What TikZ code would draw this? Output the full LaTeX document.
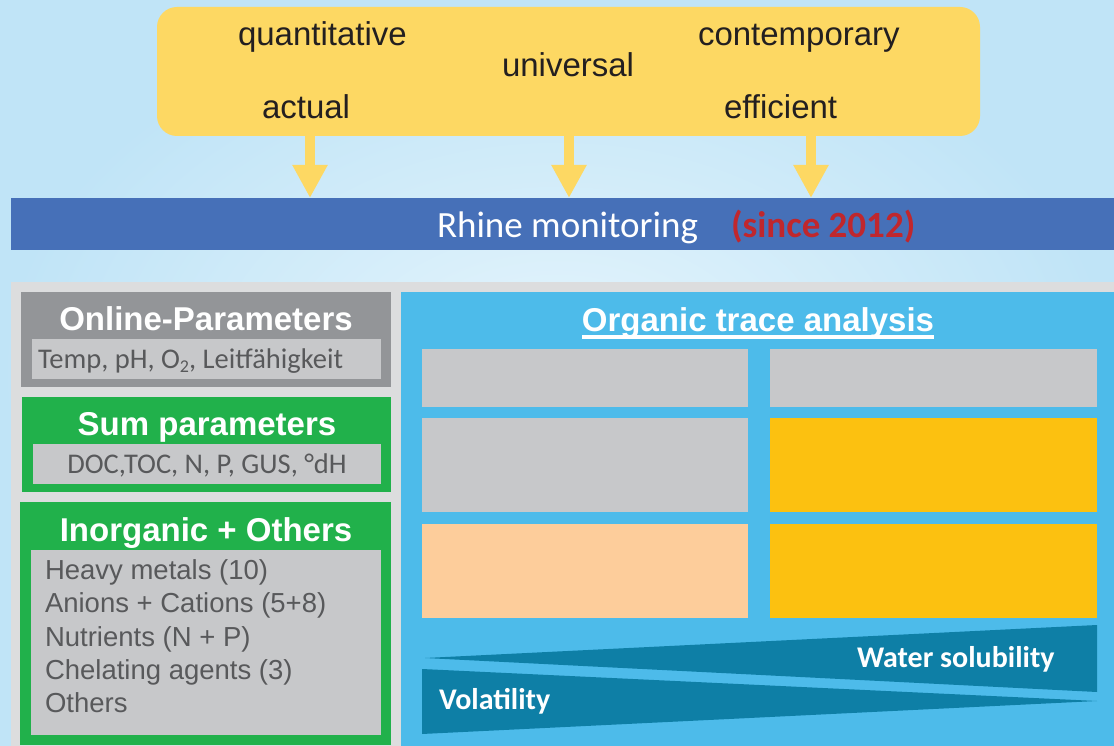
\documentclass[tikz,border=0pt]{standalone}
\usepackage{fontspec}
\setmainfont{Liberation Sans}
\newfontfamily\calfont{Carlito}
\usetikzlibrary{arrows.meta}
\definecolor{bgin}{HTML}{E6F5FC}
\definecolor{bgout}{HTML}{C0E4F7}
\definecolor{ybox}{HTML}{FDD863}
\definecolor{ytext}{HTML}{231F20}
\definecolor{barblue}{HTML}{4670B8}
\definecolor{sincered}{HTML}{C0272D}
\definecolor{panelgray}{HTML}{DCDDDE}
\definecolor{darkgray}{HTML}{939598}
\definecolor{lightgray}{HTML}{C7C8CA}
\definecolor{mygreen}{HTML}{21B14B}
\definecolor{orgblue}{HTML}{4DBBEA}
\definecolor{gold}{HTML}{FCC110}
\definecolor{peach}{HTML}{FDCD9B}
\definecolor{tealdk}{HTML}{0E7FA6}
\definecolor{txtgray}{HTML}{58595B}
\tikzset{
  blk/.style={anchor=north west, inner sep=0pt, outer sep=0pt, draw=none},
  txt/.style={inner sep=0pt, outer sep=0pt},
  topword/.style={txt, anchor=base west, text=ytext, font=\fontsize{33}{40}\selectfont},
  headw/.style={txt, anchor=base, text=white, font=\fontsize{33}{40}\selectfont\bfseries},
  calgray/.style={txt, text=txtgray, font=\calfont\fontsize{28.5}{33}\selectfont},
  item/.style={txt, anchor=base west, text=txtgray, font=\fontsize{27.5}{33}\selectfont},
  wedgetxt/.style={txt, anchor=base west, text=white, font=\calfont\bfseries\fontsize{30}{35}\selectfont},
  yarr/.style={draw=ybox, line width=10.5pt, -{Triangle[width=33pt,length=33pt]}}
}
\begin{document}
\begin{tikzpicture}[x=1pt,y=-1pt]
\useasboundingbox (0,0) rectangle (1114,746);
\shade[inner color=bgin, outer color=bgout] (0,0) rectangle (1114,746);

% top yellow box
\node[blk, fill=ybox, rounded corners=20pt, minimum width=823pt, minimum height=129pt] (top) at (157,7) {};
\node[topword] (w1) at (238,46) {quantitative};
\node[topword] (w2) at (502,77) {universal};
\node[topword] (w3) at (698,46) {contemporary};
\node[topword] (w4) at (262,119) {actual};
\node[topword] (w5) at (724,119) {efficient};

% Rhine bar
\node[blk, fill=barblue, minimum width=1103pt, minimum height=52pt] (bar) at (11,198) {};
\node[txt, anchor=base west, text=white, font=\calfont\fontsize{37}{40}\selectfont] (rhine) at (437,237) {Rhine monitoring};
\node[txt, anchor=base west, text=sincered, font=\calfont\bfseries\fontsize{37}{40}\selectfont] (since) at (731,237) {(since 2012)};

% arrows
\coordinate (a1) at ([xshift=-258.5pt]top.south);
\coordinate (a2) at ([xshift=0.5pt]top.south);
\coordinate (a3) at ([xshift=242.5pt]top.south);
\draw[yarr] (a1) -- (a1 |- bar.north);
\draw[yarr] (a2) -- (a2 |- bar.north);
\draw[yarr] (a3) -- (a3 |- bar.north);

% lower panel
\node[blk, fill=panelgray, minimum width=1103pt, minimum height=464pt] (panel) at (11,282) {};

% left column
\node[blk, fill=darkgray, minimum width=370pt, minimum height=95pt] (online) at (21,292) {};
\node[blk, fill=lightgray, minimum width=349pt, minimum height=40pt] (onlinein) at (32,339) {};
\node[headw] (onlineh) at (206,330) {Online-Parameters};
\node[calgray, anchor=base west] (onlinet) at (38,368) {Temp, pH, O\raisebox{-0.35ex}{\fontsize{18}{18}\selectfont 2}, Leitfähigkeit};

\node[blk, fill=mygreen, minimum width=369pt, minimum height=95pt] (sum) at (22,397) {};
\node[blk, fill=lightgray, minimum width=348pt, minimum height=40pt] (sumin) at (33,444) {};
\node[headw] (sumh) at (207,435) {Sum parameters};
\node[calgray, anchor=base] (sumt) at (207,473) {DOC,TOC, N, P, GUS, °dH};

\node[blk, fill=mygreen, minimum width=371pt, minimum height=243pt] (inorg) at (20,502) {};
\node[blk, fill=lightgray, minimum width=350pt, minimum height=185pt] (inorgin) at (31,550) {};
\node[headw] (inorgh) at (206,541) {Inorganic + Others};
\node[item] (i1) at (45,579) {Heavy metals (10)};
\node[item] (i2) at (45,612) {Anions + Cations (5+8)};
\node[item] (i3) at (45,646) {Nutrients (N + P)};
\node[item] (i4) at (45,679) {Chelating agents (3)};
\node[item] (i5) at (45,712) {Others};

% organic panel
\node[blk, fill=orgblue, minimum width=713pt, minimum height=454pt] (org) at (401,292) {};
\node[headw] (orgh) at (758,331) {Organic trace analysis};
\draw[white, line width=3.5pt] ([yshift=-6pt]orgh.base west) -- ([yshift=-6pt]orgh.base east);

\node[blk, fill=lightgray, minimum width=326pt, minimum height=58pt] (b11) at (422,349) {};
\node[blk, fill=lightgray, minimum width=327pt, minimum height=58pt] (b12) at (770,349) {};
\node[blk, fill=lightgray, minimum width=326pt, minimum height=94pt] (b21) at (422,418) {};
\node[blk, fill=gold, minimum width=327pt, minimum height=94pt] (b22) at (770,418) {};
\node[blk, fill=peach, minimum width=326pt, minimum height=94pt] (b31) at (422,524) {};
\node[blk, fill=gold, minimum width=327pt, minimum height=94pt] (b32) at (770,524) {};

% wedges
\fill[tealdk] (425,658) -- (1097,625) -- (1097,692) -- cycle;
\fill[tealdk] (422,669) -- (1097,701) -- (422,734) -- cycle;
\node[wedgetxt] (ws) at (857,667) {Water solubility};
\node[wedgetxt] (vol) at (439,709) {Volatility};
\end{tikzpicture}
\end{document}
